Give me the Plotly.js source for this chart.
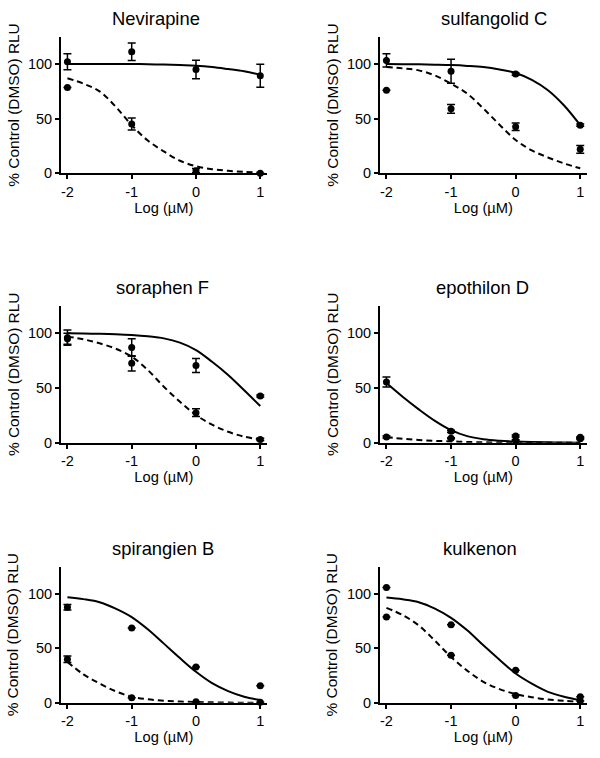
<!DOCTYPE html>
<html>
<head>
<meta charset="utf-8">
<script src="https://cdn.plot.ly/plotly-3.0.1.min.js"></script>
<style>html,body{margin:0;padding:0;background:#fff}#chart{width:600px;height:758px}</style>
</head>
<body>
<div id="chart"></div>
<script>
// ---- data ----
const logConc = [-2, -1, 0, 1];
const curveX = [-2, -1.75, -1.5, -1.25, -1, -0.75, -0.5, -0.25, 0, 0.25, 0.5, 0.75, 1];
const xTickVals = [-2, -1, 0, 1];
const xTickText = ['-2', '-1', '0', '1'];
const yTickVals = [0, 50, 100];
const panelTitles = ['Nevirapine', 'sulfangolid C', 'soraphen F', 'epothilon D', 'spirangien B', 'kulkenon'];

// Nevirapine
const nevSolidPts = [102, 111.3, 95, 89.3];
const nevSolidErr = [7.3, 8, 8.5, 10.6];
const nevDashPts = [78.4, 45.1, 2.4, 0];
const nevDashErr = [0, 5.5, 2, 0];
const nevSolidCurve = [100, 100, 100, 100, 100, 99.8, 99.5, 99, 98.5, 97.3, 95.4, 93.3, 90.2];
const nevDashCurve = [87, 82, 75, 61, 44, 30, 20, 11.5, 6.5, 3.8, 2.3, 1.3, 0.7];

// sulfangolid C
const sulSolidPts = [103.3, 93.3, 90.8, 44];
const sulSolidErr = [6, 11, 1, 1];
const sulDashPts = [76, 59, 42.6, 21.9];
const sulDashErr = [0, 4, 3.5, 3.5];
const sulSolidCurve = [100, 99.9, 99.7, 99.4, 99, 98.3, 97.2, 95, 91.8, 85.5, 76, 62, 44];
const sulDashCurve = [97.3, 96, 94.2, 89.5, 82, 72.9, 59.3, 44.5, 30.5, 21, 14.5, 9, 4.6];

// soraphen F
const sorSolidPts = [96, 87, 70.6, 42.7];
const sorSolidErr = [7, 8, 6.4, 1];
const sorDashPts = [95, 72.6, 27.5, 3];
const sorDashErr = [5, 7, 3.5, 1];
const sorSolidCurve = [100, 99.8, 99.6, 99.2, 98.5, 97.3, 95.4, 91.5, 84.7, 74, 62, 48, 33.5];
const sorDashCurve = [97, 94.5, 90.9, 86, 78.7, 66.5, 51.2, 37.5, 25.3, 16.5, 10, 5.5, 3];

// epothilon D
const epoSolidPts = [55.5, 10.4, 6.1, 4.9];
const epoSolidErr = [4.5, 1, 1, 0.5];
const epoDashPts = [5.2, 4, 2.1, 3.5];
const epoDashErr = [1, 0.5, 0.5, 0.5];
const epoSolidCurve = [54.5, 42, 30.5, 20, 11.5, 6, 3.2, 1.8, 1, 0.55, 0.3, 0.15, 0.05];
const epoDashCurve = [5.2, 3.6, 2.5, 1.7, 1.2, 0.7, 0.4, 0.2, 0.1, 0, 0, 0, 0];

// spirangien B
const spiSolidPts = [87.8, 68.6, 32.9, 15.5];
const spiSolidErr = [2.5, 0, 0, 0];
const spiDashPts = [39.9, 4.6, 0.9, 0.3];
const spiDashErr = [3, 0, 0, 0];
const spiSolidCurve = [97, 95.2, 92.4, 86.5, 78.7, 67.5, 54.3, 41, 28.4, 18, 10.7, 5.5, 2.4];
const spiDashCurve = [37.5, 26, 17.7, 10.5, 5.5, 3.2, 1.8, 1.1, 0.6, 0.3, 0.1, 0, 0];

// kulkenon
const kulSolidPts = [105.8, 71.6, 29.9, 5.5];
const kulSolidErr = [0, 0, 0, 0];
const kulDashPts = [78.7, 43.6, 6.7, 1.5];
const kulDashErr = [0, 0, 0, 0];
const kulSolidCurve = [96.6, 95, 92.4, 86.5, 78, 66.5, 52.7, 39.5, 26.8, 17.5, 10, 5.5, 2.4];
const kulDashCurve = [87.2, 80.5, 71, 57, 42, 29.5, 19.2, 12.5, 7.9, 5, 3, 1.7, 0.9];

const panels = [
  [nevSolidPts, nevSolidErr, nevDashPts, nevDashErr, nevSolidCurve, nevDashCurve],
  [sulSolidPts, sulSolidErr, sulDashPts, sulDashErr, sulSolidCurve, sulDashCurve],
  [sorSolidPts, sorSolidErr, sorDashPts, sorDashErr, sorSolidCurve, sorDashCurve],
  [epoSolidPts, epoSolidErr, epoDashPts, epoDashErr, epoSolidCurve, epoDashCurve],
  [spiSolidPts, spiSolidErr, spiDashPts, spiDashErr, spiSolidCurve, spiDashCurve],
  [kulSolidPts, kulSolidErr, kulDashPts, kulDashErr, kulSolidCurve, kulDashCurve]
];

// ---- layout geometry ----
const W = 600, H = 758;
const colX = [[61, 266.7], [380, 586.7]];
const rowY = [[36.7, 173.3], [306, 442.7], [566.7, 702.7]];
const titleX = [155.5, 494, 162.8, 482, 163.3, 480];
const FONT = 'Liberation Sans, Arial, Helvetica, sans-serif';

const traces = [];
const layout = {
  width: W, height: H,
  margin: {l: 0, r: 0, t: 0, b: 0},
  paper_bgcolor: '#ffffff', plot_bgcolor: '#ffffff',
  showlegend: false,
  font: {family: FONT, color: '#000', size: 14},
  annotations: []
};

panels.forEach((p, i) => {
  const n = i + 1;
  const xa = n === 1 ? 'x' : 'x' + n;
  const ya = n === 1 ? 'y' : 'y' + n;
  const col = i % 2, row = Math.floor(i / 2);
  const [solidPts, solidErr, dashPts, dashErr, solidCurve, dashCurve] = p;

  traces.push({x: curveX, y: solidCurve, xaxis: xa, yaxis: ya, mode: 'lines',
    line: {color: '#000', width: 2, shape: 'spline'}, hoverinfo: 'skip'});
  traces.push({x: curveX, y: dashCurve, xaxis: xa, yaxis: ya, mode: 'lines',
    line: {color: '#000', width: 2, shape: 'spline', dash: '6px,4px'}, hoverinfo: 'skip'});
  traces.push({x: logConc, y: solidPts, xaxis: xa, yaxis: ya, mode: 'markers',
    marker: {color: '#000', size: 7}, cliponaxis: false,
    error_y: {type: 'data', array: solidErr, visible: true, color: '#000', thickness: 1.5, width: 4}});
  traces.push({x: logConc, y: dashPts, xaxis: xa, yaxis: ya, mode: 'markers',
    marker: {color: '#000', size: 7}, cliponaxis: false,
    error_y: {type: 'data', array: dashErr, visible: true, color: '#000', thickness: 1.5, width: 4}});

  const xKey = n === 1 ? 'xaxis' : 'xaxis' + n;
  const yKey = n === 1 ? 'yaxis' : 'yaxis' + n;
  layout[xKey] = {
    domain: [colX[col][0] / W, colX[col][1] / W],
    anchor: ya, range: [-2.1, 1.1], fixedrange: true,
    showline: true, linecolor: '#000', linewidth: 2, mirror: false,
    showgrid: false, zeroline: false,
    ticks: 'outside', ticklen: 4, tickwidth: 2, tickcolor: '#000',
    tickvals: xTickVals, ticktext: xTickText,
    tickfont: {size: 14.5, family: FONT, color: '#000'},
    title: {text: 'Log (µM)', font: {size: 14.7, family: FONT, color: '#000'}, standoff: 3}
  };
  layout[yKey] = {
    domain: [1 - rowY[row][1] / H, 1 - rowY[row][0] / H],
    anchor: xa, range: [0, 125], fixedrange: true,
    showline: true, linecolor: '#000', linewidth: 2, mirror: false,
    showgrid: false, zeroline: false,
    ticks: 'outside', ticklen: 4, tickwidth: 2, tickcolor: '#000',
    tickvals: yTickVals, ticktext: yTickVals.map(String),
    tickfont: {size: 14.5, family: FONT, color: '#000'},
    title: {text: '% Control (DMSO) RLU', font: {size: 15.4, family: FONT, color: '#000'}, standoff: 5}
  };
  layout.annotations.push({
    text: panelTitles[i], xref: 'paper', yref: 'paper',
    x: titleX[i] / W, y: 1 - rowY[row][0] / H,
    xanchor: 'center', yanchor: 'bottom', yshift: 6, showarrow: false,
    font: {size: 18.4, family: FONT, color: '#000'}
  });
});

Plotly.newPlot('chart', traces, layout, {staticPlot: true, displayModeBar: false});
</script>
</body>
</html>
